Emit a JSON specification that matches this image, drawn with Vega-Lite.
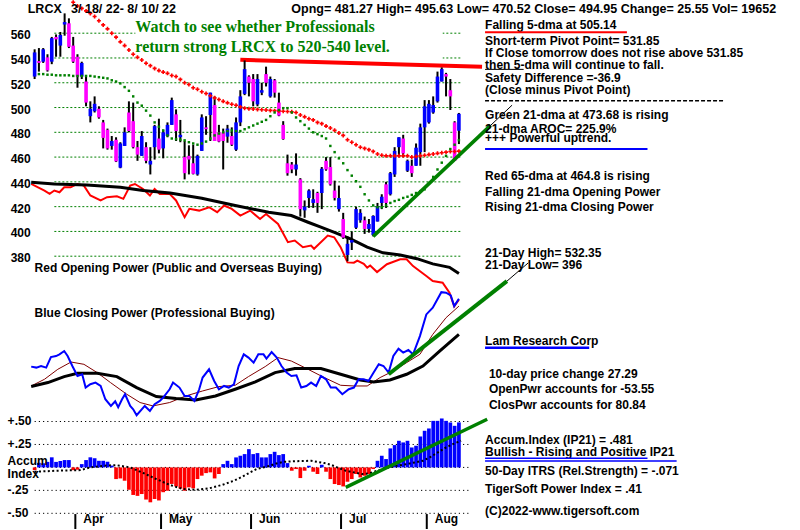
{
"$schema":"https://vega.github.io/schema/vega-lite/v6.json",
"width":800,"height":530,
"autosize":{"type":"fit","contains":"padding"},
"padding":0,
"background":"white",
"config":{"view":{"stroke":null},"text":{"font":"Liberation Sans","fontWeight":"bold","fontSize":12,"baseline":"middle","align":"left","color":"black"}},
"datasets":{
"pgrid":[{"p":380},{"p":400},{"p":420},{"p":440},{"p":460},{"p":480},{"p":500},{"p":520},{"p":540},{"p":560}],
"agrid":[{"v":-0.5},{"v":-0.25},{"v":0},{"v":0.25},{"v":0.5}],
"candles":[
{"d":0,"o":525,"h":547,"l":523,"c":544.5},{"d":1,"o":537.5,"h":548,"l":529,"c":536},{"d":2,"o":537,"h":548,"l":536,"c":547},{"d":3,"o":540.5,"h":543,"l":529,"c":530},{"d":4,"o":537,"h":557,"l":535,"c":556},{"d":5,"o":557,"h":559,"l":541,"c":555},{"d":6,"o":550,"h":561,"l":541,"c":558.6},{"d":7,"o":567,"h":576,"l":558,"c":569},{"d":8,"o":568,"h":572,"l":548,"c":549},{"d":9,"o":550,"h":557,"l":536,"c":537},
{"d":10,"o":541,"h":543,"l":516,"c":525},{"d":11,"o":525,"h":537,"l":523,"c":536},{"d":12,"o":521,"h":525,"l":501,"c":504},{"d":13,"o":493,"h":505,"l":488,"c":499},{"d":14,"o":497,"h":509,"l":496,"c":503},{"d":15,"o":499,"h":501,"l":491,"c":492},{"d":16,"o":488,"h":490,"l":467,"c":475.5},{"d":17,"o":482,"h":483,"l":466,"c":467},{"d":18,"o":469,"h":477,"l":466,"c":473},{"d":19,"o":474,"h":476,"l":456,"c":456.5},
{"d":20,"o":451.5,"h":472,"l":451,"c":471},{"d":21,"o":469,"h":484,"l":469,"c":480},{"d":22,"o":496,"h":505,"l":480,"c":481},{"d":23,"o":489,"h":504,"l":467,"c":468},{"d":24,"o":468,"h":473,"l":457,"c":462},{"d":25,"o":461,"h":481,"l":461,"c":477},{"d":26,"o":468,"h":472,"l":455,"c":457},{"d":27,"o":454,"h":468,"l":446,"c":457},{"d":28,"o":468,"h":486,"l":458,"c":485},{"d":29,"o":475,"h":491,"l":463,"c":466},
{"d":30,"o":467,"h":482,"l":459,"c":480},{"d":31,"o":477,"h":488,"l":476,"c":486},{"d":32,"o":486,"h":508,"l":486,"c":506},{"d":33,"o":494.5,"h":498.5,"l":473,"c":481},{"d":34,"o":476,"h":490,"l":472,"c":478},{"d":35,"o":460,"h":473,"l":442,"c":447},{"d":36,"o":461,"h":469.5,"l":446,"c":458},{"d":37,"o":455,"h":470,"l":446,"c":446.5},{"d":38,"o":446,"h":462,"l":445,"c":461},{"d":39,"o":465,"h":494.5,"l":465,"c":492},
{"d":40,"o":484,"h":493,"l":478,"c":482.5},{"d":41,"o":494,"h":512,"l":473,"c":512},{"d":42,"o":502,"h":509,"l":473,"c":473},{"d":43,"o":480,"h":486,"l":472,"c":472.5},{"d":44,"o":480,"h":483,"l":450,"c":473},{"d":45,"o":476.5,"h":486,"l":471.6,"c":483},{"d":46,"o":477,"h":484,"l":469,"c":470},{"d":47,"o":466,"h":492,"l":465,"c":488},{"d":48,"o":488,"h":514,"l":485,"c":509},{"d":49,"o":511,"h":538,"l":510,"c":531},
{"d":50,"o":525,"h":526,"l":509,"c":520},{"d":51,"o":523,"h":527,"l":501,"c":505},{"d":52,"o":502.5,"h":527,"l":501,"c":523},{"d":53,"o":512,"h":520,"l":510,"c":514},{"d":54,"o":527,"h":533,"l":517,"c":520},{"d":55,"o":509,"h":525,"l":508,"c":523},{"d":56,"o":522,"h":523,"l":508,"c":512},{"d":57,"o":504,"h":512,"l":493,"c":493.5},{"d":58,"o":486,"h":489,"l":474,"c":474.5},{"d":59,"o":455,"h":462,"l":445,"c":447},
{"d":60,"o":454,"h":456,"l":447,"c":450},{"d":61,"o":450,"h":463,"l":445,"c":454},{"d":62,"o":442,"h":443,"l":412,"c":418},{"d":63,"o":417,"h":425,"l":411,"c":420},{"d":64,"o":427,"h":434,"l":419,"c":433},{"d":65,"o":423,"h":434,"l":419,"c":426},{"d":66,"o":431,"h":432,"l":415,"c":423},{"d":67,"o":431,"h":452,"l":418,"c":450.6},{"d":68,"o":457,"h":460,"l":449,"c":450},{"d":69,"o":452,"h":460,"l":437,"c":438},
{"d":70,"o":433,"h":441,"l":425,"c":427},{"d":71,"o":418,"h":437,"l":416,"c":427},{"d":72,"o":410,"h":415,"l":394,"c":395},{"d":73,"o":381,"h":396,"l":376,"c":390},{"d":74,"o":391,"h":400,"l":385,"c":393},{"d":75,"o":403,"h":420,"l":402,"c":418},{"d":76,"o":409,"h":418,"l":407,"c":415},{"d":77,"o":409,"h":412,"l":398,"c":402},{"d":78,"o":402,"h":410,"l":399,"c":406},{"d":79,"o":397,"h":413,"l":396,"c":412.5},
{"d":80,"o":408,"h":423,"l":408,"c":420},{"d":81,"o":423,"h":430,"l":418,"c":428},{"d":82,"o":438,"h":440,"l":419,"c":423},{"d":83,"o":430,"h":448,"l":429,"c":447},{"d":84,"o":446,"h":468,"l":444,"c":465},{"d":85,"o":468,"h":476,"l":461,"c":476},{"d":86,"o":475,"h":478,"l":460,"c":463},{"d":87,"o":449,"h":458,"l":448,"c":457},{"d":88,"o":453,"h":458,"l":444,"c":447},{"d":89,"o":453,"h":471,"l":453,"c":467.6},
{"d":90,"o":464,"h":487,"l":453,"c":484},{"d":91,"o":484,"h":506,"l":464,"c":501},{"d":92,"o":488,"h":506,"l":487,"c":503},{"d":93,"o":496,"h":509,"l":495,"c":502},{"d":94,"o":505,"h":529,"l":504,"c":525},{"d":95,"o":521,"h":532.35,"l":521,"c":531},{"d":96,"o":527,"h":528,"l":509,"c":525},{"d":97,"o":514,"h":523,"l":498,"c":509},{"d":98,"o":488,"h":489,"l":457,"c":457},{"d":99,"o":481.27,"h":495.63,"l":470.52,"c":494.95}],
"ma21":[{"d":1,"v":527},{"d":2,"v":527},{"d":3,"v":526.5},{"d":4,"v":526.5},{"d":5,"v":526},{"d":6,"v":526},{"d":7,"v":526},{"d":8,"v":526},{"d":9,"v":525.5},{"d":10,"v":525.5},{"d":11,"v":525.5},{"d":12,"v":525.5},{"d":13,"v":525.5},{"d":14,"v":525},{"d":15,"v":524.5},{"d":16,"v":524},{"d":17,"v":523.5},{"d":18,"v":522},{"d":19,"v":521},{"d":20,"v":519.5},{"d":21,"v":516.5},{"d":22,"v":513.5},{"d":23,"v":509},{"d":24,"v":504},{"d":25,"v":501.5},{"d":26,"v":497.5},{"d":27,"v":493.5},{"d":28,"v":488},{"d":29,"v":484.5},{"d":30,"v":481.5},{"d":31,"v":477.5},{"d":32,"v":475},{"d":33,"v":474.5},{"d":34,"v":474},{"d":35,"v":473.5},{"d":36,"v":472},{"d":37,"v":471},{"d":38,"v":470},{"d":39,"v":471},{"d":40,"v":472.5},{"d":41,"v":475},{"d":42,"v":477.5},{"d":43,"v":479},{"d":44,"v":480},{"d":45,"v":481},{"d":46,"v":481.5},{"d":47,"v":481},{"d":48,"v":481},{"d":49,"v":482.5},{"d":50,"v":484},{"d":51,"v":485.5},{"d":52,"v":487},{"d":53,"v":488.5},{"d":54,"v":490},{"d":55,"v":493},{"d":56,"v":496},{"d":57,"v":498},{"d":58,"v":499.5},{"d":59,"v":499.5},{"d":60,"v":496},{"d":61,"v":492},{"d":62,"v":489},{"d":63,"v":486},{"d":64,"v":483},{"d":65,"v":480},{"d":66,"v":478.5},{"d":67,"v":477},{"d":68,"v":475},{"d":69,"v":469},{"d":70,"v":464},{"d":71,"v":459},{"d":72,"v":455},{"d":73,"v":449.5},{"d":74,"v":445},{"d":75,"v":440.5},{"d":76,"v":436},{"d":77,"v":430},{"d":78,"v":425},{"d":79,"v":421},{"d":80,"v":419.5},{"d":81,"v":419.5},{"d":82,"v":421},{"d":83,"v":423},{"d":84,"v":424.5},{"d":85,"v":425.5},{"d":86,"v":427},{"d":87,"v":428},{"d":88,"v":429.5},{"d":89,"v":431},{"d":90,"v":432.5},{"d":91,"v":434},{"d":92,"v":439},{"d":93,"v":444},{"d":94,"v":450},{"d":95,"v":455.5},{"d":96,"v":461},{"d":97,"v":466.5},{"d":98,"v":470},{"d":99,"v":473.68}],
"ma65":[{"d":9,"v":585},{"d":10,"v":582},{"d":11,"v":580},{"d":12,"v":578},{"d":13,"v":576},{"d":14,"v":573.5},{"d":15,"v":570},{"d":16,"v":566.7},{"d":17,"v":563.5},{"d":18,"v":560},{"d":19,"v":556.8},{"d":20,"v":553},{"d":21,"v":550},{"d":22,"v":546.5},{"d":23,"v":543},{"d":24,"v":540.5},{"d":25,"v":538.4},{"d":26,"v":535.7},{"d":27,"v":533.8},{"d":28,"v":531.6},{"d":29,"v":529.8},{"d":30,"v":528.6},{"d":31,"v":527.6},{"d":32,"v":525.9},{"d":33,"v":525},{"d":34,"v":522.7},{"d":35,"v":520},{"d":36,"v":518.6},{"d":37,"v":516},{"d":38,"v":514.8},{"d":39,"v":512.7},{"d":40,"v":511.3},{"d":41,"v":509.5},{"d":42,"v":507.8},{"d":43,"v":506.5},{"d":44,"v":505},{"d":45,"v":503.8},{"d":46,"v":502.7},{"d":47,"v":501.8},{"d":48,"v":500.5},{"d":49,"v":499.5},{"d":50,"v":499},{"d":51,"v":498.8},{"d":52,"v":498.5},{"d":53,"v":498.2},{"d":54,"v":498},{"d":55,"v":497.7},{"d":56,"v":497.5},{"d":57,"v":497.2},{"d":58,"v":497},{"d":59,"v":496.8},{"d":60,"v":496.5},{"d":61,"v":496},{"d":62,"v":494},{"d":63,"v":492.5},{"d":64,"v":491},{"d":65,"v":490},{"d":66,"v":488},{"d":67,"v":487},{"d":68,"v":485},{"d":69,"v":483.5},{"d":70,"v":481.6},{"d":71,"v":479.5},{"d":72,"v":477.5},{"d":73,"v":474},{"d":74,"v":472},{"d":75,"v":470},{"d":76,"v":468},{"d":77,"v":467},{"d":78,"v":466},{"d":79,"v":464.6},{"d":80,"v":462.5},{"d":81,"v":461.5},{"d":82,"v":461},{"d":83,"v":461},{"d":84,"v":461},{"d":85,"v":461},{"d":86,"v":461},{"d":87,"v":461},{"d":88,"v":460},{"d":89,"v":460.5},{"d":90,"v":461},{"d":91,"v":461.5},{"d":92,"v":462},{"d":93,"v":462.5},{"d":94,"v":463},{"d":95,"v":463.5},{"d":96,"v":464},{"d":97,"v":464.5},{"d":98,"v":464.5},{"d":99,"v":464.8}],
"op":[{"d":-0.8,"v":438.3},{"d":0.8,"v":435.6},{"d":2.3,"v":433},{"d":3.5,"v":430.3},{"d":4.6,"v":433},{"d":5.8,"v":431.6},{"d":6.9,"v":435.6},{"d":8.4,"v":435.6},{"d":10,"v":438.3},{"d":11.5,"v":437},{"d":13,"v":429},{"d":15.4,"v":425},{"d":16.9,"v":427.6},{"d":19.2,"v":428.4},{"d":20.7,"v":426.3},{"d":22.3,"v":437},{"d":23.4,"v":438.3},{"d":25.3,"v":434.3},{"d":26.9,"v":429},{"d":28,"v":434.3},{"d":29.2,"v":430.3},{"d":31.5,"v":430.3},{"d":33,"v":425},{"d":35,"v":411.5},{"d":36.1,"v":418.2},{"d":38.4,"v":416.8},{"d":40.7,"v":419.5},{"d":42.6,"v":415.5},{"d":44.2,"v":420.9},{"d":46,"v":418.2},{"d":48,"v":412.8},{"d":50.3,"v":416.8},{"d":52.6,"v":410},{"d":54,"v":414},{"d":56.8,"v":406},{"d":59.1,"v":391.3},{"d":60.7,"v":392.6},{"d":62.6,"v":387.3},{"d":64.5,"v":388.6},{"d":65.2,"v":386},{"d":68.4,"v":396.7},{"d":69.9,"v":395.3},{"d":71.4,"v":387.3},{"d":73,"v":375},{"d":74.5,"v":374.8},{"d":75.3,"v":376.5},{"d":76.8,"v":373.8},{"d":77.6,"v":370.8},{"d":78.3,"v":372.5},{"d":79.9,"v":367.2},{"d":82.2,"v":373.5},{"d":85.3,"v":377.5},{"d":86.8,"v":377.5},{"d":88.3,"v":372},{"d":91.4,"v":364},{"d":92.9,"v":360},{"d":95.2,"v":358.6},{"d":96.8,"v":350.5},{"d":97.9,"v":339.6},{"d":99,"v":345}],
"opma":[{"d":-0.8,"v":439.7},{"d":4.6,"v":438.3},{"d":12.2,"v":437.5},{"d":20,"v":435.6},{"d":25.3,"v":433},{"d":31.6,"v":431},{"d":39,"v":426.8},{"d":46.8,"v":420.9},{"d":54.6,"v":415.5},{"d":59.9,"v":412.8},{"d":63.8,"v":407.4},{"d":66.8,"v":403.4},{"d":69.8,"v":399.4},{"d":73.7,"v":394},{"d":77.6,"v":387.3},{"d":81.3,"v":382.7},{"d":85.3,"v":381},{"d":89.2,"v":378},{"d":92.9,"v":373.8},{"d":96.8,"v":371},{"d":99,"v":366}],
"resist":[{"d":48,"v":538.5},{"d":104.4,"v":533}],
"ptrend":[{"d":79,"v":396},{"d":106.4,"v":485.6}],
"ptrendx":[{"d":106.4,"v":485.6},{"d":111.4,"v":501.9}],
"cp":[{"d":-0.8,"v":32.7},{"d":0.4,"v":31.7},{"d":1.5,"v":33.3},{"d":2.7,"v":31.7},{"d":3.8,"v":42.3},{"d":5,"v":43.3},{"d":5.8,"v":45},{"d":6.9,"v":48.3},{"d":7.7,"v":43.3},{"d":8.8,"v":33.3},{"d":10,"v":23.3},{"d":11.1,"v":25},{"d":11.9,"v":11.7},{"d":13,"v":15},{"d":14.2,"v":16.7},{"d":15.4,"v":13.3},{"d":16.5,"v":0},{"d":17.8,"v":-6.7},{"d":18.8,"v":-2},{"d":19.5,"v":-8},{"d":20.4,"v":0},{"d":21.1,"v":5},{"d":22.3,"v":-6.7},{"d":23,"v":-10},{"d":23.8,"v":-16},{"d":25.7,"v":-6.7},{"d":26.9,"v":-11.7},{"d":28,"v":-5},{"d":29.2,"v":-1.7},{"d":30,"v":1.7},{"d":31.5,"v":10},{"d":32.3,"v":16.7},{"d":33.8,"v":11.7},{"d":35,"v":3.3},{"d":36.1,"v":3.3},{"d":37.3,"v":-1.7},{"d":38.4,"v":10},{"d":39.2,"v":21.7},{"d":40.7,"v":30},{"d":41.9,"v":18.3},{"d":43,"v":10},{"d":44.2,"v":13.3},{"d":45.3,"v":11.7},{"d":46.5,"v":15},{"d":47.6,"v":33.3},{"d":48.8,"v":45},{"d":49.9,"v":41.7},{"d":51.1,"v":36.7},{"d":52.2,"v":45},{"d":53.4,"v":45},{"d":54.1,"v":40.7},{"d":55.3,"v":47.3},{"d":56.5,"v":41.7},{"d":57.6,"v":33.3},{"d":58.8,"v":26.7},{"d":59.9,"v":23.3},{"d":61.1,"v":24},{"d":62.2,"v":11.7},{"d":63.4,"v":13.3},{"d":64.5,"v":16.7},{"d":65.7,"v":13.3},{"d":66.8,"v":23.3},{"d":68,"v":20},{"d":69.1,"v":11.7},{"d":70.3,"v":11.7},{"d":71.8,"v":5},{"d":73.3,"v":10},{"d":74.5,"v":11.7},{"d":75.6,"v":20},{"d":76.8,"v":20},{"d":77.9,"v":18.3},{"d":79.1,"v":26.7},{"d":80.3,"v":35},{"d":81.4,"v":33.3},{"d":82.6,"v":26.7},{"d":83.7,"v":43.3},{"d":84.9,"v":50.7},{"d":86,"v":46.7},{"d":87.2,"v":49.3},{"d":88.3,"v":45},{"d":89.9,"v":63.3},{"d":91.4,"v":85},{"d":92.9,"v":91.7},{"d":94.9,"v":107.3},{"d":96,"v":106.7},{"d":97.1,"v":104},{"d":97.9,"v":93.3},{"d":99,"v":100.7}],
"cpma21":[{"d":-0.8,"v":13.3},{"d":2.3,"v":20},{"d":5.4,"v":30},{"d":8.5,"v":37.3},{"d":11.5,"v":35},{"d":14.6,"v":26.7},{"d":17.7,"v":16.7},{"d":21.5,"v":5},{"d":24.6,"v":-3.3},{"d":27.6,"v":-6.7},{"d":31.5,"v":-3.3},{"d":35.3,"v":3.3},{"d":39.2,"v":8.3},{"d":43,"v":12.7},{"d":46.8,"v":14},{"d":49.9,"v":22.7},{"d":53.8,"v":32.7},{"d":56.8,"v":41.7},{"d":59.9,"v":38.3},{"d":63.8,"v":30},{"d":67.6,"v":21.7},{"d":71.4,"v":14},{"d":74.5,"v":13.3},{"d":77.6,"v":13.3},{"d":80.6,"v":21.7},{"d":83.7,"v":28.3},{"d":86.8,"v":36.7},{"d":89.9,"v":45},{"d":92.9,"v":65},{"d":96,"v":81.7},{"d":99,"v":93.3}],
"cpma":[{"d":-0.8,"v":12.7},{"d":3.1,"v":16.7},{"d":6.9,"v":22.7},{"d":10,"v":26},{"d":14.6,"v":26},{"d":19.2,"v":22.7},{"d":23.8,"v":11.7},{"d":28.4,"v":2.7},{"d":33,"v":0.7},{"d":37.6,"v":-0.7},{"d":42.2,"v":3.3},{"d":46.8,"v":10},{"d":51.5,"v":17.3},{"d":56.1,"v":26.7},{"d":60.7,"v":30.7},{"d":66.8,"v":30.7},{"d":71.4,"v":25},{"d":76,"v":19.3},{"d":79.1,"v":17.3},{"d":82.9,"v":19.3},{"d":86.8,"v":25},{"d":90.6,"v":33.3},{"d":94.5,"v":48.3},{"d":99,"v":65}],
"cptrend":[{"d":82.6,"v":25},{"d":110.2,"v":118.3}],
"cptrendx":[{"d":110.2,"v":118.3},{"d":115.2,"v":136.7}],
"acc":[{"d":0,"v":-0.03},{"d":1,"v":0.05},{"d":2,"v":0.045},{"d":3,"v":0.06},{"d":4,"v":0.11},{"d":5,"v":0.06},{"d":6,"v":0.07},{"d":7,"v":0.08},{"d":8,"v":0.08},{"d":9,"v":-0.03},{"d":10,"v":-0.025},{"d":11,"v":0.036},{"d":12,"v":0.08},{"d":13,"v":0.11},{"d":14,"v":0.1},{"d":15,"v":0.072},{"d":16,"v":0.072},{"d":17,"v":0.062},{"d":18,"v":0.02},{"d":19,"v":-0.127},{"d":20,"v":-0.12},{"d":21,"v":-0.145},{"d":22,"v":-0.243},{"d":23,"v":-0.3},{"d":24,"v":-0.31},{"d":25,"v":-0.29},{"d":26,"v":-0.35},{"d":27,"v":-0.38},{"d":28,"v":-0.344},{"d":29,"v":-0.36},{"d":30,"v":-0.27},{"d":31,"v":-0.254},{"d":32,"v":-0.18},{"d":33,"v":-0.207},{"d":34,"v":-0.23},{"d":35,"v":-0.254},{"d":36,"v":-0.217},{"d":37,"v":-0.228},{"d":38,"v":-0.127},{"d":39,"v":-0.09},{"d":40,"v":-0.062},{"d":41,"v":-0.054},{"d":42,"v":-0.12},{"d":43,"v":-0.072},{"d":44,"v":0.036},{"d":45,"v":0.072},{"d":46,"v":0.036},{"d":47,"v":0.109},{"d":48,"v":0.127},{"d":49,"v":0.145},{"d":50,"v":0.199},{"d":51,"v":0.145},{"d":52,"v":0.156},{"d":53,"v":0.109},{"d":54,"v":0.109},{"d":55,"v":0.145},{"d":56,"v":0.17},{"d":57,"v":0.134},{"d":58,"v":0.145},{"d":59,"v":0.047},{"d":60,"v":-0.036},{"d":61,"v":-0.018},{"d":62,"v":-0.116},{"d":63,"v":-0.036},{"d":64,"v":0.018},{"d":65,"v":-0.047},{"d":66,"v":-0.072},{"d":67,"v":0.029},{"d":68,"v":-0.047},{"d":69,"v":-0.127},{"d":70,"v":-0.181},{"d":71,"v":-0.192},{"d":72,"v":-0.207},{"d":73,"v":-0.156},{"d":74,"v":-0.127},{"d":75,"v":-0.072},{"d":76,"v":-0.109},{"d":77,"v":-0.091},{"d":78,"v":-0.072},{"d":79,"v":-0.018},{"d":80,"v":0.072},{"d":81,"v":0.127},{"d":82,"v":0.091},{"d":83,"v":0.207},{"d":84,"v":0.243},{"d":85,"v":0.29},{"d":86,"v":0.272},{"d":87,"v":0.29},{"d":88,"v":0.217},{"d":89,"v":0.236},{"d":90,"v":0.337},{"d":91,"v":0.399},{"d":92,"v":0.424},{"d":93,"v":0.507},{"d":94,"v":0.507},{"d":95,"v":0.533},{"d":96,"v":0.507},{"d":97,"v":0.489},{"d":98,"v":0.453},{"d":99,"v":0.49}],
"accma":[{"d":0,"v":-0.047},{"d":5.3,"v":-0.036},{"d":10.7,"v":-0.029},{"d":13,"v":0},{"d":16,"v":0.018},{"d":19,"v":0.025},{"d":22.3,"v":0},{"d":25.3,"v":-0.06},{"d":28.4,"v":-0.127},{"d":31.5,"v":-0.19},{"d":34.6,"v":-0.235},{"d":37.6,"v":-0.243},{"d":40.7,"v":-0.228},{"d":43.8,"v":-0.19},{"d":46.5,"v":-0.145},{"d":48.5,"v":-0.1},{"d":50.3,"v":-0.054},{"d":51.8,"v":-0.018},{"d":53.3,"v":0},{"d":54.9,"v":0.018},{"d":56.4,"v":0.043},{"d":58.3,"v":0.062},{"d":61,"v":0.068},{"d":64.5,"v":0.072},{"d":67.6,"v":0.047},{"d":69.1,"v":0.029},{"d":70.6,"v":0},{"d":72.6,"v":-0.036},{"d":74.5,"v":-0.054},{"d":76.4,"v":-0.072},{"d":78,"v":-0.065},{"d":79.9,"v":-0.036},{"d":81.4,"v":-0.018},{"d":82.9,"v":0},{"d":84.5,"v":0.018},{"d":86.8,"v":0.036},{"d":88.7,"v":0.054},{"d":90.6,"v":0.072},{"d":92.2,"v":0.109},{"d":94.1,"v":0.163},{"d":96,"v":0.217},{"d":97.6,"v":0.254},{"d":99.5,"v":0.29}],
"acctrend":[{"d":72.6,"v":-0.217},{"d":105.6,"v":0.525}],
"months":[{"m":"Apr","d":9.5},{"m":"May","d":29.5},{"m":"Jun","d":50.5},{"m":"Jul","d":71.5},{"m":"Aug","d":91.5}],
"plabels":[{"t":"560","p":560},{"t":"540","p":540},{"t":"520","p":520},{"t":"500","p":500},{"t":"480","p":480},{"t":"460","p":460},{"t":"440","p":440},{"t":"420","p":420},{"t":"400","p":400},{"t":"380","p":380}],
"alabels":[{"t":"+.50","v":0.5},{"t":"+.25","v":0.25},{"t":"Accum","v":0.065},{"t":"Index","v":-0.073},{"t":"-.25","v":-0.25},{"t":"-.50","v":-0.5}],
"title":[{"t":"Watch to see whether Professionals","p":565.3},{"t":"return strong LRCX to 520-540 level.","p":549.2}],
"pnotes":[{"t":"Falling 5-dma at 505.14","p":566.7},{"t":"Short-term Pivot Point= 531.85","p":553.8},{"t":"If Close tomorrow does not rise above 531.85","p":544.1},{"t":"then 5-dma will continue to fall.","p":534.4},{"t":"Safety Difference =-36.9","p":524.0},{"t":" (Close minus Pivot Point)","p":514.3},{"t":"Green 21-dma at  473.68 is rising","p":494.1},{"t":"21-dma AROC=  225.9%","p":482.8},{"t":"+++ Powerful uptrend.","p":475.2},{"t":"Red 65-dma at  464.8 is rising","p":445.0},{"t":"Falling 21-dma Opening Power","p":432.1},{"t":"Rising 21-dma Closing Power","p":420.0},{"t":"21-Day High= 532.35","p":382.9},{"t":"21-Day Low= 396","p":372.5}],
"cpnotes1":[{"t":"Lam Research Corp","v":58.3}],
"cpnotes2":[{"t":"10-day price change  27.29","v":25},{"t":"OpenPwr accounts for -53.55","v":10},{"t":"ClosPwr accounts for  80.84","v":-5.7}],
"panellabels":[{"t":"Red Opening Power (Public and Overseas Buying)","v":131},{"t":"Blue Closing Power (Professional Buying)","v":86}],
"anotes":[{"t":"Accum.Index (IP21) =  .481","v":0.297},{"t":"Bullish - Rising and Positive IP21","v":0.17},{"t":"50-Day ITRS (Rel.Strength) = -.071","v":-0.037},{"t":"TigerSoft Power Index =  .41","v":-0.236},{"t":"(C)2022-www.tigersoft.com","v":-0.472}],
"header":[{"t":"LRCX","p":579.5}],
"header2":[{"t":"3/ 18/ 22-  8/ 10/ 22","p":579.5}],
"header3":[{"t":"Opng= 481.27 High= 495.63 Low= 470.52 Close= 494.95 Change= 25.55 Vol= 19652","p":579.5}],
"one":[{}]
},
"resolve":{"scale":{"y":"independent"}},
"layer":[
{"data":{"name":"pgrid"},"mark":{"type":"rule","stroke":"#008000","strokeDash":[2,2],"strokeWidth":1},
 "encoding":{"x":{"datum":4.6,"type":"quantitative","scale":{"domain":[-6.912,177.42],"nice":false,"zero":false},"axis":null},"x2":{"datum":99.6},
 "y":{"field":"p","type":"quantitative","scale":{"domain":[159.8,586.8],"nice":false,"zero":false},"axis":null}}},
{"data":{"name":"agrid"},"mark":{"type":"rule","stroke":"black","strokeDash":[1.2,3],"strokeWidth":1},
 "encoding":{"x":{"datum":0,"type":"quantitative","scale":{"domain":[-6.912,177.42],"nice":false,"zero":false},"axis":null},"x2":{"datum":101.8},
 "y":{"field":"v","type":"quantitative","scale":{"domain":[-0.6707,5.0902],"nice":false,"zero":false},"axis":null}}},
{"data":{"name":"one"},"mark":{"type":"rect","fill":"white"},
 "encoding":{"x":{"datum":23.5,"type":"quantitative","scale":{"domain":[-6.912,177.42],"nice":false,"zero":false},"axis":null},"x2":{"datum":95.2},
 "y":{"datum":572.3,"type":"quantitative","scale":{"domain":[159.8,586.8],"nice":false,"zero":false},"axis":null},"y2":{"datum":536}}},
{"data":{"name":"op"},"mark":{"type":"line","stroke":"#ff0000","strokeWidth":2},
 "encoding":{"x":{"field":"d","type":"quantitative","scale":{"domain":[-6.912,177.42],"nice":false,"zero":false},"axis":null},
 "y":{"field":"v","type":"quantitative","scale":{"domain":[159.8,586.8],"nice":false,"zero":false},"axis":null}}},
{"data":{"name":"opma"},"mark":{"type":"line","stroke":"black","strokeWidth":3},
 "encoding":{"x":{"field":"d","type":"quantitative","scale":{"domain":[-6.912,177.42],"nice":false,"zero":false},"axis":null},
 "y":{"field":"v","type":"quantitative","scale":{"domain":[159.8,586.8],"nice":false,"zero":false},"axis":null}}},
{"data":{"name":"resist"},"mark":{"type":"line","stroke":"#ff0000","strokeWidth":4},
 "encoding":{"x":{"field":"d","type":"quantitative","scale":{"domain":[-6.912,177.42],"nice":false,"zero":false},"axis":null},
 "y":{"field":"v","type":"quantitative","scale":{"domain":[159.8,586.8],"nice":false,"zero":false},"axis":null}}},
{"data":{"name":"candles"},"mark":{"type":"rule","stroke":"black","strokeWidth":2},
 "encoding":{"x":{"field":"d","type":"quantitative","scale":{"domain":[-6.912,177.42],"nice":false,"zero":false},"axis":null},
 "y":{"field":"l","type":"quantitative","scale":{"domain":[159.8,586.8],"nice":false,"zero":false},"axis":null},"y2":{"field":"h"}}},
{"data":{"name":"candles"},"mark":{"type":"bar","size":3.6},
 "encoding":{"x":{"field":"d","type":"quantitative","scale":{"domain":[-6.912,177.42],"nice":false,"zero":false},"axis":null},
 "y":{"field":"o","type":"quantitative","scale":{"domain":[159.8,586.8],"nice":false,"zero":false},"axis":null},"y2":{"field":"c"},
 "color":{"condition":{"test":"datum.c >= datum.o","value":"#0000ff"},"value":"#ff00ff"}}},
{"data":{"name":"ma65"},"mark":{"type":"point","shape":"cross","filled":true,"size":16,"color":"#ff0000","opacity":1},
 "encoding":{"x":{"field":"d","type":"quantitative","scale":{"domain":[-6.912,177.42],"nice":false,"zero":false},"axis":null},
 "y":{"field":"v","type":"quantitative","scale":{"domain":[159.8,586.8],"nice":false,"zero":false},"axis":null}}},
{"data":{"name":"ma21"},"mark":{"type":"point","shape":"square","filled":true,"size":6,"color":"#008000","opacity":1},
 "encoding":{"x":{"field":"d","type":"quantitative","scale":{"domain":[-6.912,177.42],"nice":false,"zero":false},"axis":null},
 "y":{"field":"v","type":"quantitative","scale":{"domain":[159.8,586.8],"nice":false,"zero":false},"axis":null}}},
{"data":{"name":"ptrend"},"mark":{"type":"line","stroke":"#008000","strokeWidth":3.5},
 "encoding":{"x":{"field":"d","type":"quantitative","scale":{"domain":[-6.912,177.42],"nice":false,"zero":false},"axis":null},
 "y":{"field":"v","type":"quantitative","scale":{"domain":[159.8,586.8],"nice":false,"zero":false},"axis":null}}},
{"data":{"name":"ptrendx"},"mark":{"type":"line","stroke":"black","strokeWidth":1},
 "encoding":{"x":{"field":"d","type":"quantitative","scale":{"domain":[-6.912,177.42],"nice":false,"zero":false},"axis":null},
 "y":{"field":"v","type":"quantitative","scale":{"domain":[159.8,586.8],"nice":false,"zero":false},"axis":null}}},
{"data":{"name":"cpma21"},"mark":{"type":"line","stroke":"#800000","strokeWidth":1},
 "encoding":{"x":{"field":"d","type":"quantitative","scale":{"domain":[-6.912,177.42],"nice":false,"zero":false},"axis":null},
 "y":{"field":"v","type":"quantitative","scale":{"domain":[-130,400],"nice":false,"zero":false},"axis":null}}},
{"data":{"name":"cpma"},"mark":{"type":"line","stroke":"black","strokeWidth":3},
 "encoding":{"x":{"field":"d","type":"quantitative","scale":{"domain":[-6.912,177.42],"nice":false,"zero":false},"axis":null},
 "y":{"field":"v","type":"quantitative","scale":{"domain":[-130,400],"nice":false,"zero":false},"axis":null}}},
{"data":{"name":"cp"},"mark":{"type":"line","stroke":"#0000ff","strokeWidth":2},
 "encoding":{"x":{"field":"d","type":"quantitative","scale":{"domain":[-6.912,177.42],"nice":false,"zero":false},"axis":null},
 "y":{"field":"v","type":"quantitative","scale":{"domain":[-130,400],"nice":false,"zero":false},"axis":null}}},
{"data":{"name":"cptrend"},"mark":{"type":"line","stroke":"#008000","strokeWidth":4},
 "encoding":{"x":{"field":"d","type":"quantitative","scale":{"domain":[-6.912,177.42],"nice":false,"zero":false},"axis":null},
 "y":{"field":"v","type":"quantitative","scale":{"domain":[-130,400],"nice":false,"zero":false},"axis":null}}},
{"data":{"name":"cptrendx"},"mark":{"type":"line","stroke":"black","strokeWidth":1},
 "encoding":{"x":{"field":"d","type":"quantitative","scale":{"domain":[-6.912,177.42],"nice":false,"zero":false},"axis":null},
 "y":{"field":"v","type":"quantitative","scale":{"domain":[-130,400],"nice":false,"zero":false},"axis":null}}},
{"data":{"name":"acc"},"mark":{"type":"bar","size":3.7},
 "encoding":{"x":{"field":"d","type":"quantitative","scale":{"domain":[-6.912,177.42],"nice":false,"zero":false},"axis":null},
 "y":{"field":"v","type":"quantitative","scale":{"domain":[-0.6707,5.0902],"nice":false,"zero":false},"axis":null},"y2":{"datum":0},
 "color":{"condition":{"test":"datum.v >= 0","value":"#0000ff"},"value":"#ff0000"}}},
{"data":{"name":"accma"},"mark":{"type":"line","stroke":"black","strokeWidth":2,"strokeDash":[2,2.4]},
 "encoding":{"x":{"field":"d","type":"quantitative","scale":{"domain":[-6.912,177.42],"nice":false,"zero":false},"axis":null},
 "y":{"field":"v","type":"quantitative","scale":{"domain":[-0.6707,5.0902],"nice":false,"zero":false},"axis":null}}},
{"data":{"name":"acctrend"},"mark":{"type":"line","stroke":"#008000","strokeWidth":3.5},
 "encoding":{"x":{"field":"d","type":"quantitative","scale":{"domain":[-6.912,177.42],"nice":false,"zero":false},"axis":null},
 "y":{"field":"v","type":"quantitative","scale":{"domain":[-0.6707,5.0902],"nice":false,"zero":false},"axis":null}}},
{"data":{"name":"months"},"mark":{"type":"rule","stroke":"black","strokeWidth":2},
 "encoding":{"x":{"field":"d","type":"quantitative","scale":{"domain":[-6.912,177.42],"nice":false,"zero":false},"axis":null},
 "y":{"datum":-0.508,"type":"quantitative","scale":{"domain":[-0.6707,5.0902],"nice":false,"zero":false},"axis":null},"y2":{"datum":-0.6707}}},
{"data":{"name":"months"},"mark":{"type":"text","dx":8},
 "encoding":{"x":{"field":"d","type":"quantitative","scale":{"domain":[-6.912,177.42],"nice":false,"zero":false},"axis":null},
 "y":{"datum":-0.565,"type":"quantitative","scale":{"domain":[-0.6707,5.0902],"nice":false,"zero":false},"axis":null},"text":{"field":"m"}}},
{"data":{"name":"plabels"},"mark":{"type":"text","align":"right","dy":2},
 "encoding":{"x":{"datum":-0.92,"type":"quantitative","scale":{"domain":[-6.912,177.42],"nice":false,"zero":false},"axis":null},
 "y":{"field":"p","type":"quantitative","scale":{"domain":[159.8,586.8],"nice":false,"zero":false},"axis":null},"text":{"field":"t"}}},
{"data":{"name":"alabels"},"mark":{"type":"text"},
 "encoding":{"x":{"datum":-6.3,"type":"quantitative","scale":{"domain":[-6.912,177.42],"nice":false,"zero":false},"axis":null},
 "y":{"field":"v","type":"quantitative","scale":{"domain":[-0.6707,5.0902],"nice":false,"zero":false},"axis":null},"text":{"field":"t"}}},
{"data":{"name":"title"},"mark":{"type":"text","font":"Liberation Serif","fontSize":16,"color":"#008000"},
 "encoding":{"x":{"datum":23.5,"type":"quantitative","scale":{"domain":[-6.912,177.42],"nice":false,"zero":false},"axis":null},
 "y":{"field":"p","type":"quantitative","scale":{"domain":[159.8,586.8],"nice":false,"zero":false},"axis":null},"text":{"field":"t"}}},
{"data":{"name":"header"},"mark":{"type":"text","fontSize":12.5},
 "encoding":{"x":{"datum":-1.61,"type":"quantitative","scale":{"domain":[-6.912,177.42],"nice":false,"zero":false},"axis":null},
 "y":{"field":"p","type":"quantitative","scale":{"domain":[159.8,586.8],"nice":false,"zero":false},"axis":null},"text":{"field":"t"}}},
{"data":{"name":"header2"},"mark":{"type":"text","fontSize":12.5},
 "encoding":{"x":{"datum":8.5,"type":"quantitative","scale":{"domain":[-6.912,177.42],"nice":false,"zero":false},"axis":null},
 "y":{"field":"p","type":"quantitative","scale":{"domain":[159.8,586.8],"nice":false,"zero":false},"axis":null},"text":{"field":"t"}}},
{"data":{"name":"header3"},"mark":{"type":"text","fontSize":12.5},
 "encoding":{"x":{"datum":59.9,"type":"quantitative","scale":{"domain":[-6.912,177.42],"nice":false,"zero":false},"axis":null},
 "y":{"field":"p","type":"quantitative","scale":{"domain":[159.8,586.8],"nice":false,"zero":false},"axis":null},"text":{"field":"t"}}},
{"data":{"name":"pnotes"},"mark":{"type":"text"},
 "encoding":{"x":{"datum":105.1,"type":"quantitative","scale":{"domain":[-6.912,177.42],"nice":false,"zero":false},"axis":null},
 "y":{"field":"p","type":"quantitative","scale":{"domain":[159.8,586.8],"nice":false,"zero":false},"axis":null},"text":{"field":"t"}}},
{"data":{"name":"one"},"mark":{"type":"rule","stroke":"#ff0000","strokeWidth":2},
 "encoding":{"x":{"datum":105.1,"type":"quantitative","scale":{"domain":[-6.912,177.42],"nice":false,"zero":false},"axis":null},"x2":{"datum":138.2},
 "y":{"datum":560.8,"type":"quantitative","scale":{"domain":[159.8,586.8],"nice":false,"zero":false},"axis":null}}},
{"data":{"name":"one"},"mark":{"type":"rule","stroke":"black","strokeWidth":1},
 "encoding":{"x":{"datum":105.1,"type":"quantitative","scale":{"domain":[-6.912,177.42],"nice":false,"zero":false},"axis":null},"x2":{"datum":114.1},
 "y":{"datum":530.8,"type":"quantitative","scale":{"domain":[159.8,586.8],"nice":false,"zero":false},"axis":null}}},
{"data":{"name":"one"},"mark":{"type":"rule","stroke":"black","strokeWidth":1.5,"strokeDash":[4,2]},
 "encoding":{"x":{"datum":105.1,"type":"quantitative","scale":{"domain":[-6.912,177.42],"nice":false,"zero":false},"axis":null},"x2":{"datum":160.8},
 "y":{"datum":505.4,"type":"quantitative","scale":{"domain":[159.8,586.8],"nice":false,"zero":false},"axis":null}}},
{"data":{"name":"one"},"mark":{"type":"rule","stroke":"#0000ff","strokeWidth":2},
 "encoding":{"x":{"datum":105.1,"type":"quantitative","scale":{"domain":[-6.912,177.42],"nice":false,"zero":false},"axis":null},"x2":{"datum":143},
 "y":{"datum":466.5,"type":"quantitative","scale":{"domain":[159.8,586.8],"nice":false,"zero":false},"axis":null}}},
{"data":{"name":"panellabels"},"mark":{"type":"text"},
 "encoding":{"x":{"datum":0,"type":"quantitative","scale":{"domain":[-6.912,177.42],"nice":false,"zero":false},"axis":null},
 "y":{"field":"v","type":"quantitative","scale":{"domain":[-130,400],"nice":false,"zero":false},"axis":null},"text":{"field":"t"}}},
{"data":{"name":"cpnotes1"},"mark":{"type":"text"},
 "encoding":{"x":{"datum":105.1,"type":"quantitative","scale":{"domain":[-6.912,177.42],"nice":false,"zero":false},"axis":null},
 "y":{"field":"v","type":"quantitative","scale":{"domain":[-130,400],"nice":false,"zero":false},"axis":null},"text":{"field":"t"}}},
{"data":{"name":"one"},"mark":{"type":"rule","stroke":"#0000ff","strokeWidth":2.5},
 "encoding":{"x":{"datum":105.1,"type":"quantitative","scale":{"domain":[-6.912,177.42],"nice":false,"zero":false},"axis":null},"x2":{"datum":129.4},
 "y":{"datum":51.5,"type":"quantitative","scale":{"domain":[-130,400],"nice":false,"zero":false},"axis":null}}},
{"data":{"name":"cpnotes2"},"mark":{"type":"text"},
 "encoding":{"x":{"datum":106,"type":"quantitative","scale":{"domain":[-6.912,177.42],"nice":false,"zero":false},"axis":null},
 "y":{"field":"v","type":"quantitative","scale":{"domain":[-130,400],"nice":false,"zero":false},"axis":null},"text":{"field":"t"}}},
{"data":{"name":"anotes"},"mark":{"type":"text"},
 "encoding":{"x":{"datum":105.1,"type":"quantitative","scale":{"domain":[-6.912,177.42],"nice":false,"zero":false},"axis":null},
 "y":{"field":"v","type":"quantitative","scale":{"domain":[-0.6707,5.0902],"nice":false,"zero":false},"axis":null},"text":{"field":"t"}}},
{"data":{"name":"one"},"mark":{"type":"rule","stroke":"#0000ff","strokeWidth":1.5},
 "encoding":{"x":{"datum":105.1,"type":"quantitative","scale":{"domain":[-6.912,177.42],"nice":false,"zero":false},"axis":null},"x2":{"datum":143},
 "y":{"datum":0.101,"type":"quantitative","scale":{"domain":[-0.6707,5.0902],"nice":false,"zero":false},"axis":null}}},
{"data":{"name":"one"},"mark":{"type":"rule","stroke":"#0000ff","strokeWidth":1.5},
 "encoding":{"x":{"datum":105.1,"type":"quantitative","scale":{"domain":[-6.912,177.42],"nice":false,"zero":false},"axis":null},"x2":{"datum":149.8},
 "y":{"datum":0.0685,"type":"quantitative","scale":{"domain":[-0.6707,5.0902],"nice":false,"zero":false},"axis":null}}}
]
}
